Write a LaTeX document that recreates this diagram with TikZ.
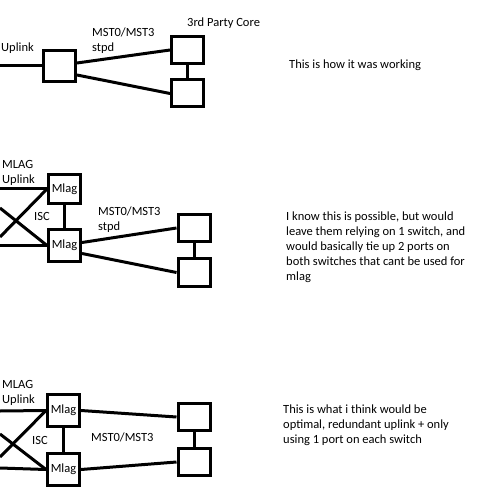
\documentclass[tikz,border=0pt]{standalone}
\usepackage{fontspec}
\setmainfont{Carlito}
\usetikzlibrary{positioning, calc}

\begin{document}
\begin{tikzpicture}[
    x=1pt, y=-1pt,
    sw/.style={rectangle, draw, line width=3pt, minimum width=32pt, minimum height=28pt, inner sep=0pt},
    lnk/.style={line width=3pt},
    lbl/.style={anchor=west, inner sep=0pt, align=left},
    font=\fontsize{12.5}{15}\selectfont,
  ]
    \useasboundingbox (0,0) rectangle (490,502);

    % How it was working
    \node[sw, minimum height=31pt] (s1) at (59.5,66) {};
    \node[sw, minimum height=27pt] (c1a) at (187.5,50) {};
    \node[sw, minimum height=27pt] (c1b) at (187.5,93.5) {};
    \coordinate (u1) at (0,66);

    \draw[lnk] (u1) -- (s1.west);
    \draw[lnk] ([yshift=3pt]s1.east) -- (c1a.west);
    \draw[lnk] ([yshift=-9pt]s1.east) -- (c1b.west);
    \draw[lnk] (c1a.south) -- (c1b.north);

    \node[lbl] at (1,48) {Uplink};
    \node[lbl] at (92,40.5) {MST0/MST3\\stpd};
    \node[lbl] at (187,23) {3rd Party Core};
    \node[lbl] at (289,65) {This is how it was working};

    % Mlag pair, one switch down to the core
    \node[sw, minimum height=29pt] (m2a) at (64.5,189) {Mlag};
    \node[sw, minimum height=32pt] (m2b) at (64.5,245.5) {Mlag};
    \node[sw, minimum height=27pt] (c2a) at (194,228) {};
    \node[sw, minimum height=28pt] (c2b) at (194,272.5) {};
    \coordinate (u2a) at (0,189);
    \coordinate (u2b) at (0,208);
    \coordinate (u2c) at (0,237);
    \coordinate (u2d) at (0,245.5);

    \draw[lnk] (u2a) -- (m2a.west);
    \draw[lnk] (u2b) -- (m2b.west);
    \draw[lnk] (u2c) -- (m2a.west);
    \draw[lnk] (u2d) -- (m2b.west);
    \draw[lnk] (m2a.south) -- (m2b.north);
    \draw[lnk] ([yshift=3pt]m2b.east) -- (c2a.west);
    \draw[lnk] ([yshift=-8pt]m2b.east) -- (c2b.west);
    \draw[lnk] (c2a.south) -- (c2b.north);

    \node[lbl] at (2,172.5) {MLAG\\Uplink};
    \node[lbl] at (34,216) {ISC};
    \node[lbl] at (98,219.5) {MST0/MST3\\stpd};
    \node[lbl] at (286,247) {I know this is possible, but would\\leave them relying on 1 switch, and\\would basically tie up 2 ports on\\both switches that cant be used for\\mlag};

    % Mlag pair, one port on each switch
    \node[sw, minimum height=32pt] (m3a) at (63.5,410.5) {Mlag};
    \node[sw, minimum height=32pt] (m3b) at (63.5,469.5) {Mlag};
    \node[sw, minimum height=27pt] (c3a) at (194,417) {};
    \node[sw, minimum height=27pt] (c3b) at (194,462) {};
    \coordinate (u3a) at (0,411);
    \coordinate (u3b) at (0,434);
    \coordinate (u3c) at (0,457);
    \coordinate (u3d) at (0,468);

    \draw[lnk] (u3a) -- (m3a.west);
    \draw[lnk] (u3b) -- (m3b.west);
    \draw[lnk] (u3c) -- (m3a.west);
    \draw[lnk] (u3d) -- (m3b.west);
    \draw[lnk] (m3a.south) -- (m3b.north);
    \draw[lnk] (m3a.east) -- (c3a.west);
    \draw[lnk] (m3b.east) -- (c3b.west);
    \draw[lnk] (c3a.south) -- (c3b.north);

    \node[lbl] at (2,392.5) {MLAG\\Uplink};
    \node[lbl] at (32,440) {ISC};
    \node[lbl] at (91,437) {MST0/MST3};
    \node[lbl] at (283,425) {This is what i think would be\\optimal, redundant uplink + only\\using 1 port on each switch};
  \end{tikzpicture}
\end{document}
